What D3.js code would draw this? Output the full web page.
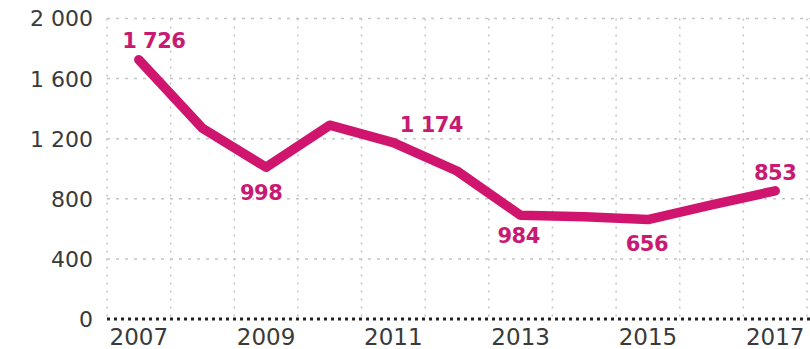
<!DOCTYPE html>
<html>
<head>
<meta charset="utf-8">
<script src="https://cdn.jsdelivr.net/npm/d3@7"></script>
<style>
  html, body { margin: 0; padding: 0; background: #fff; }
  svg { display: block; }
</style>
</head>
<body>
<svg id="chart" width="810" height="349"></svg>
<script>
// ---- data ----
const years = [2007, 2008, 2009, 2010, 2011, 2012, 2013, 2014, 2015, 2016, 2017];
const values = [1726, 1270, 1010, 1290, 1174, 985, 690, 680, 662, 760, 853];
const yTicks = [0, 400, 800, 1200, 1600, 2000];
const xTickYears = [2007, 2009, 2011, 2013, 2015, 2017];
const labelYears = [2007, 2009, 2011, 2013, 2015, 2017];
const labelTexts = ["1 726", "998", "1 174", "984", "656", "853"];

// ---- layout (label offsets relative to points) ----
const labelOffsets = [[15, -12], [-5, 33], [38, -11], [-2, 28], [-1, 31], [0, -11]];

const svg = d3.select("#chart");
const x = d3.scaleBand().domain(years).range([107, 807]).padding(0);
const y = d3.scaleLinear().domain([0, 2000]).range([319, 18.5]);
const cx = d => x(d) + x.bandwidth() / 2;

const fmt = v => d3.format(",")(v).replace(/,/g, " ");

// vertical grid lines at band edges
const edges = years.map(d => x(d)).concat([x(years[years.length - 1]) + x.bandwidth()]);
svg.append("g").selectAll("line").data(edges).join("line")
  .attr("x1", d => d).attr("x2", d => d)
  .attr("y1", y(2000)).attr("y2", y(0))
  .attr("stroke", "#c4c4c4").attr("stroke-width", 1.5)
  .attr("stroke-dasharray", "2,6");

// horizontal grid lines
svg.append("g").selectAll("line").data(yTicks.filter(d => d > 0)).join("line")
  .attr("x1", 107).attr("x2", 810)
  .attr("y1", d => y(d)).attr("y2", d => y(d))
  .attr("stroke", "#c4c4c4").attr("stroke-width", 1.5)
  .attr("stroke-dasharray", "3,6");

// baseline
svg.append("line")
  .attr("x1", 107).attr("x2", 810)
  .attr("y1", y(0)).attr("y2", y(0))
  .attr("stroke", "#222").attr("stroke-width", 3.2)
  .attr("stroke-dasharray", "3,4");

// y axis labels
svg.append("g").selectAll("text").data(yTicks).join("text")
  .attr("x", 93).attr("y", d => y(d))
  .attr("dy", "0.36em")
  .attr("text-anchor", "end")
  .attr("font-family", "DejaVu Sans, sans-serif")
  .attr("font-size", 22)
  .attr("fill", "#3a3a3a")
  .text(d => fmt(d));

// x axis labels
svg.append("g").selectAll("text").data(xTickYears).join("text")
  .attr("x", d => cx(d)).attr("y", 345)
  .attr("text-anchor", "middle")
  .attr("font-family", "DejaVu Sans, sans-serif")
  .attr("font-size", 23)
  .attr("fill", "#3a3a3a")
  .text(d => d);

// line
const line = d3.line().x((d, i) => cx(years[i])).y(d => y(d));
svg.append("path")
  .datum(values)
  .attr("d", line)
  .attr("fill", "none")
  .attr("stroke", "#d0156f")
  .attr("stroke-width", 9.5)
  .attr("stroke-linejoin", "round")
  .attr("stroke-linecap", "round");

// value labels
svg.append("g").selectAll("text").data(labelYears).join("text")
  .attr("x", (d, i) => cx(d) + labelOffsets[i][0])
  .attr("y", (d, i) => y(values[years.indexOf(d)]) + labelOffsets[i][1])
  .attr("text-anchor", "middle")
  .attr("font-family", "DejaVu Sans, sans-serif")
  .attr("font-weight", "bold")
  .attr("font-size", 21)
  .attr("letter-spacing", "-0.5")
  .attr("fill", "#c81a72")
  .attr("stroke", "#fff").attr("stroke-width", 3)
  .attr("paint-order", "stroke")
  .text((d, i) => labelTexts[i]);
</script>
</body>
</html>
